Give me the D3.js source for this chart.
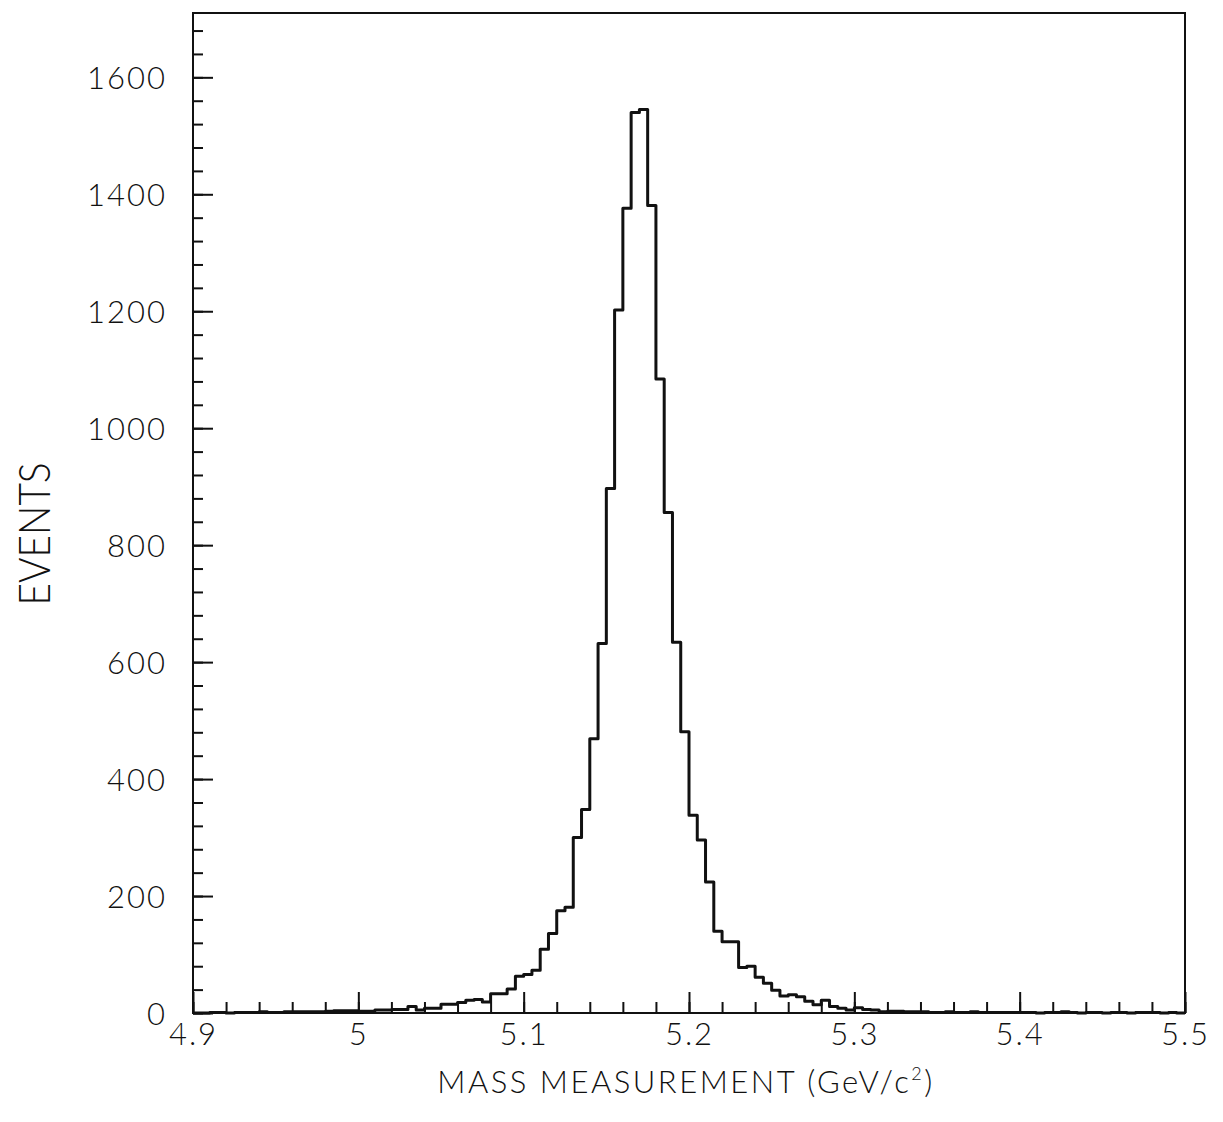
<!DOCTYPE html>
<html>
<head>
<meta charset="utf-8">
<script src="https://cdn.jsdelivr.net/npm/d3@7"></script>
<style>
	body { margin: 0; background: #fff; }
	text { font-family: "Lato", "DejaVu Sans", sans-serif; font-weight: 300; fill: #111; }
</style>
</head>
<body>
<div id="chart"></div>
<script>

// Histogram bins, 0.005 GeV wide from 4.9 to 5.5
var binEdges = d3.range(121).map(function(i) { return +(4.9 + i * 0.005).toFixed(3); });
var counts = [
	0, 0, 1, 1, 0, 1, 1, 1, 2, 1, 1, 2, 2, 2, 2, 2, 3, 4, 4, 4,
	3, 3, 5, 5, 6, 6, 11, 5, 8, 8, 15, 15, 18, 22, 23, 19, 33, 33, 41, 63,
	66, 73, 109, 136, 175, 181, 300, 348, 469, 632, 897, 1202, 1376, 1540, 1545, 1381, 1084, 856, 634, 481,
	338, 296, 224, 140, 122, 122, 78, 80, 61, 51, 39, 29, 31, 28, 20, 14, 22, 11, 8, 5,
	9, 6, 5, 2, 3, 3, 2, 2, 2, 1, 1, 2, 1, 1, 2, 1, 1, 1, 1, 1,
	1, 1, 0, 1, 1, 2, 1, 0, 1, 1, 0, 1, 1, 0, 1, 1, 1, 0, 1, 0
];

// Axis ticks
var xMajor = [4.9, 5.0, 5.1, 5.2, 5.3, 5.4, 5.5];
var xLabels = ['4.9', '5', '5.1', '5.2', '5.3', '5.4', '5.5'];
var xMinor = d3.range(31).map(function(i) { return +(4.9 + i * 0.02).toFixed(2); });
var yMajor = [0, 200, 400, 600, 800, 1000, 1200, 1400, 1600];
var yMinor = d3.range(43).map(function(i) { return i * 40; });

(function() {

	var width = 1223, height = 1122;
	var m = { left: 193, right: 1185, top: 13, bottom: 1013 };

	var svg = d3.select('#chart')
		.append('svg')
		.attr('width', width)
		.attr('height', height);

	var x = d3.scaleLinear()
		.domain([4.9, 5.5])
		.range([m.left, m.right]);

	var y = d3.scaleLinear()
		.domain([0, 1710])
		.range([m.bottom, m.top]);

	// Frame
	svg.append('rect')
		.attr('x', m.left).attr('y', m.top)
		.attr('width', m.right - m.left).attr('height', m.bottom - m.top)
		.attr('fill', 'none')
		.attr('stroke', '#111')
		.attr('stroke-width', 2);

	// Inward ticks on the left axis
	var yAxisMinor = d3.axisLeft(y).tickValues(yMinor).tickSize(-10).tickFormat('');
	var yAxisMajor = d3.axisLeft(y).tickValues(yMajor).tickSize(-20).tickPadding(26)
		.tickFormat(d3.format('d'));

	svg.append('g')
		.attr('transform', 'translate(' + m.left + ',0)')
		.call(yAxisMinor);

	var gy = svg.append('g')
		.attr('transform', 'translate(' + m.left + ',0)')
		.call(yAxisMajor);

	// Inward ticks on the bottom axis
	var xAxisMinor = d3.axisBottom(x).tickValues(xMinor).tickSize(-11).tickFormat('');
	var xAxisMajor = d3.axisBottom(x).tickValues(xMajor).tickSize(-21).tickPadding(9)
		.tickFormat(function(d, i) { return xLabels[i]; });

	svg.append('g')
		.attr('transform', 'translate(0,' + m.bottom + ')')
		.call(xAxisMinor);

	var gx = svg.append('g')
		.attr('transform', 'translate(0,' + m.bottom + ')')
		.call(xAxisMajor);

	svg.selectAll('.domain').remove();
	svg.selectAll('.tick line').attr('stroke', '#111').attr('stroke-width', 2);

	gy.selectAll('text')
		.attr('font-size', 31)
		.attr('letter-spacing', 2)
		.attr('dy', '0.36em');

	gx.selectAll('text')
		.attr('font-size', 31)
		.attr('letter-spacing', 2)
		.attr('dy', '0.75em');

	// Histogram outline
	var pts = [[binEdges[0], 0]];
	counts.forEach(function(c, i) {
		pts.push([binEdges[i], c]);
		pts.push([binEdges[i + 1], c]);
	});
	pts.push([binEdges[120], 0]);

	var line = d3.line()
		.x(function(d) { return x(d[0]); })
		.y(function(d) { return y(d[1]); });

	svg.append('path')
		.datum(pts)
		.attr('d', line)
		.attr('fill', 'none')
		.attr('stroke', '#111')
		.attr('stroke-width', 3)
		.attr('stroke-linejoin', 'round');

	// Axis titles
	svg.append('text')
		.attr('transform', 'translate(50,534) rotate(-90)')
		.attr('text-anchor', 'middle')
		.attr('font-size', 44)
		.attr('textLength', 143)
		.attr('lengthAdjust', 'spacingAndGlyphs')
		.text('EVENTS');

	var title = svg.append('text')
		.attr('x', 686)
		.attr('y', 1093)
		.attr('text-anchor', 'middle')
		.attr('font-size', 31)
		.attr('letter-spacing', 2.5);
	title.append('tspan').text('MASS MEASUREMENT (GeV/c');
	title.append('tspan').attr('font-size', 18).attr('dy', -13).text('2');
	title.append('tspan').attr('dy', 13).text(')');

})();

</script>
</body>
</html>
